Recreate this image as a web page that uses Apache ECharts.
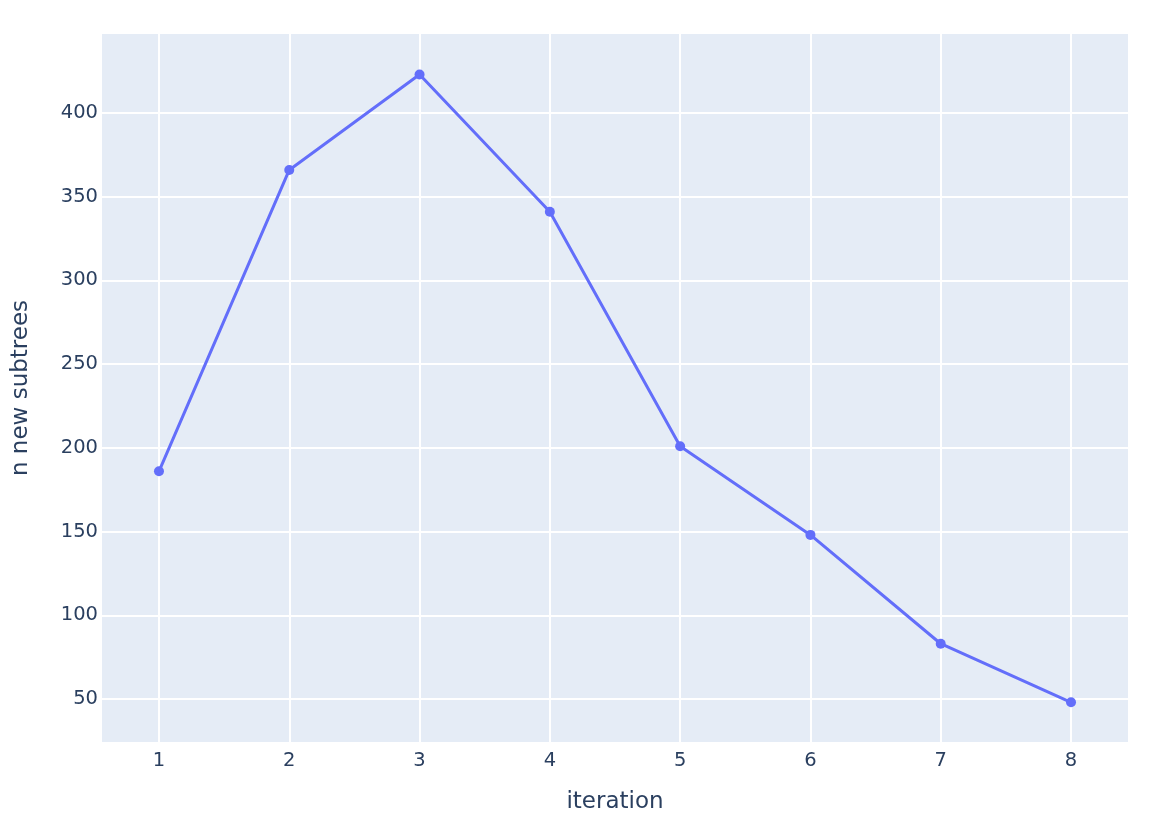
<!DOCTYPE html>
<html>
<head>
<meta charset="utf-8">
<script src="https://cdn.jsdelivr.net/npm/echarts@6/dist/echarts.min.js"></script>
<style>
	html,body{margin:0;padding:0;background:#fff;}
	#chart{width:1163px;height:831px;}
</style>
</head>
<body>
<div id="chart"></div>
<script>
	// 数据
	const iterations=[1,2,3,4,5,6,7,8];
	const newSubtrees=[186,366,423,341,201,148,83,48];

	const textColor="#2a3f5f";
	const font="DejaVu Sans";
	const hideEdge=function(v){
		return Number.isInteger(Math.round(v*1000)/1000) ? String(Math.round(v)) : "";
	};

	const chart=echarts.init(document.getElementById("chart"));
	const option={
		animation:false,
		backgroundColor:"#fff",
		textStyle:{fontFamily:font},
		grid:{
			left:101,
			right:34,
			top:33,
			bottom:88,
			show:true,
			backgroundColor:"#E5ECF6",
			borderWidth:0
		},
		xAxis:{
			type:"value",
			min:0.555,
			max:8.445,
			splitNumber:8,
			name:"iteration",
			nameLocation:"middle",
			nameGap:48,
			nameTextStyle:{color:textColor,fontSize:23,fontFamily:font},
			axisLine:{show:false},
			axisTick:{show:false},
			axisLabel:{
				color:textColor,
				fontSize:19.5,
				fontFamily:font,
				margin:8,
				formatter:hideEdge
			},
			splitLine:{
				lineStyle:{color:"#fff",width:2}
			}
		},
		yAxis:{
			type:"value",
			min:23.7,
			max:447.8,
			splitNumber:8,
			name:"n new subtrees",
			nameLocation:"middle",
			nameGap:68,
			nameTextStyle:{color:textColor,fontSize:23,fontFamily:font},
			axisLine:{show:false},
			axisTick:{show:false},
			axisLabel:{
				color:textColor,
				fontSize:19.5,
				fontFamily:font,
				margin:3,
				formatter:function(v){
					return Math.abs(v%50)<0.001 ? String(Math.round(v)) : "";
				}
			},
			splitLine:{
				lineStyle:{color:"#fff",width:2}
			}
		},
		series:[
			{
				type:"line",
				data:iterations.map((x,i)=>[x,newSubtrees[i]]),
				symbol:"circle",
				symbolSize:10,
				lineStyle:{color:"#636EFA",width:3},
				itemStyle:{color:"#636EFA"}
			}
		]
	};
	chart.setOption(option);
</script>
</body>
</html>
